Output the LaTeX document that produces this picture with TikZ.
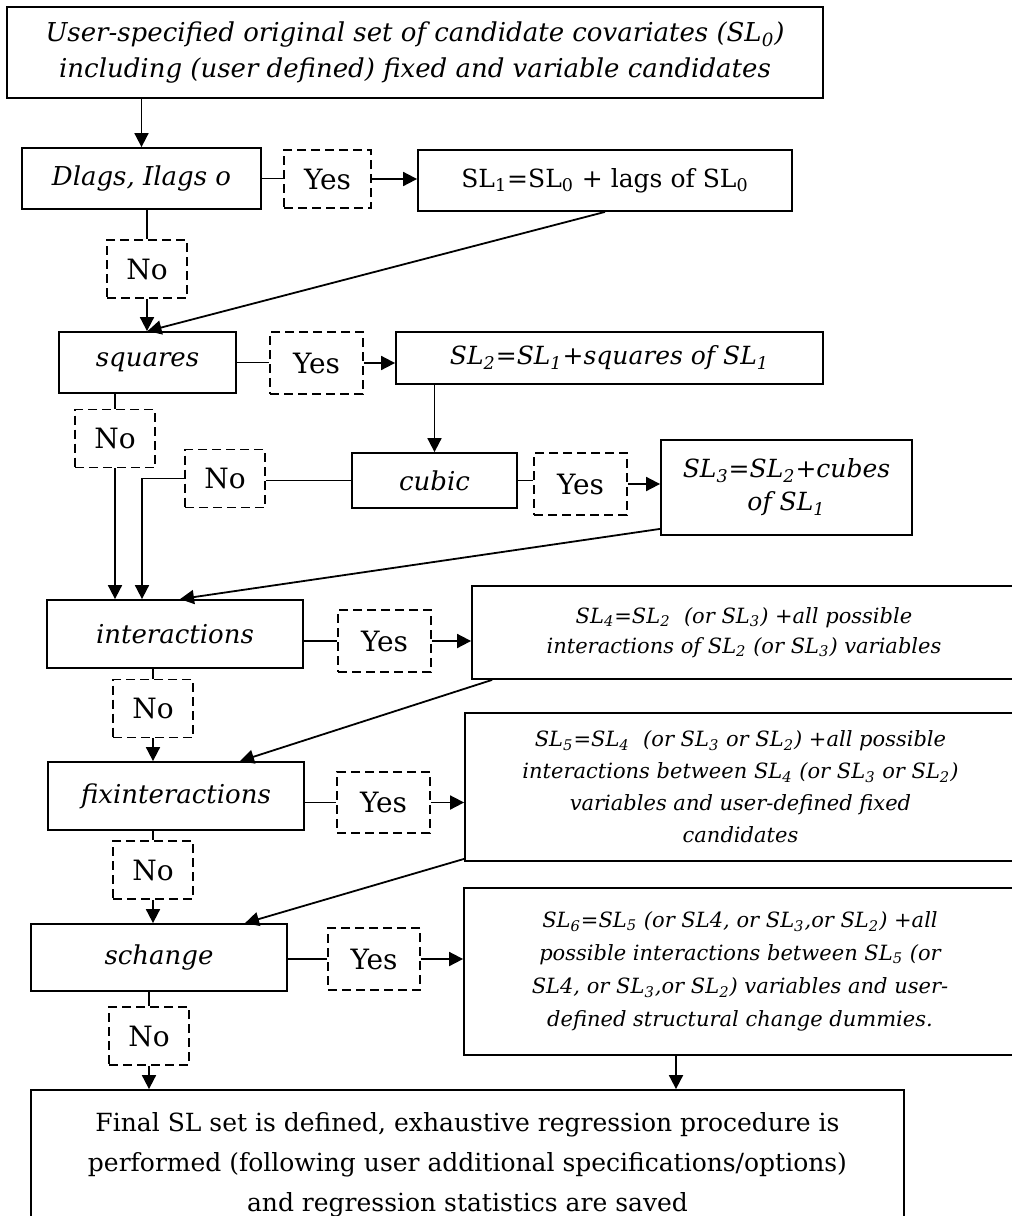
\documentclass[tikz,border=0pt]{standalone}
\usepackage{fontspec}
\setmainfont{DejaVu Serif}
\usepackage{tikz}
\usetikzlibrary{arrows.meta,positioning,calc}

\begin{document}
\begin{tikzpicture}[
  x=0.5pt, y=-0.5pt,
  box/.style={draw, line width=0.9pt, inner sep=0pt, align=center, font=\fontsize{13}{19}\selectfont},
  longbox/.style={box, font=\fontsize{10.5}{16}\selectfont},
  ans/.style={draw, dashed, dash pattern=on 4.5pt off 2.5pt, line width=0.75pt, inner sep=0pt, minimum width=40pt, minimum height=29pt, font=\fontsize{14}{16}\selectfont},
  arr/.style={-{Triangle[length=7pt,width=7pt]}, line width=0.9pt},
  link/.style={line width=0.9pt}
]
  \useasboundingbox (0,0) rectangle (1012,1216);

  \node[box, minimum width=408pt, minimum height=45.5pt, font=\fontsize{13}{18}\selectfont] (orig) at (415,52.5)
    {\itshape User-specified original set of candidate covariates (SL\textsubscript{0})\\
     \itshape including (user defined) fixed and variable candidates};

  \node[box, minimum width=119.5pt, minimum height=30.5pt] (dlags) at (141.5,178.5) {\itshape Dlags, Ilags o};
  \node[ans, minimum width=43.5pt] (yes1) at (327.5,179) {Yes};
  \node[box, minimum width=187pt, minimum height=30.5pt, font=\fontsize{12.5}{15}\selectfont] (sl1) at (605,180.5)
    {SL\textsubscript{1}=SL\textsubscript{0} + lags of SL\textsubscript{0}};
  \node[ans] (no1) at (147,269) {No};

  \node[box, minimum width=88.5pt, minimum height=30.5pt] (squares) at (147.5,362.5) {\itshape squares};
  \node[ans, minimum width=46.5pt, minimum height=31pt] (yes2) at (316.5,363) {Yes};
  \node[box, minimum width=213.5pt, minimum height=26pt, font=\fontsize{12.5}{15}\selectfont] (sl2) at (609.5,358)
    {\itshape SL\textsubscript{2}=SL\textsubscript{1}+squares of SL\textsubscript{1}};
  \node[ans] (no2) at (115,438.5) {No};

  \node[box, minimum width=82.5pt, minimum height=27.5pt] (cubic) at (434.5,480.5) {\itshape cubic};
  \node[ans] (no3) at (225,478.5) {No};
  \node[ans, minimum width=46.5pt, minimum height=31pt] (yes3) at (580.5,484) {Yes};
  \node[box, minimum width=125.5pt, minimum height=47.5pt, font=\fontsize{12.5}{16.5}\selectfont] (sl3) at (786.5,487.5)
    {\itshape SL\textsubscript{3}=SL\textsubscript{2}+cubes\\ \itshape of SL\textsubscript{1}};

  \node[box, minimum width=128pt, minimum height=34pt] (inter) at (175,634) {\itshape interactions};
  \node[ans, minimum width=46.5pt, minimum height=31pt] (yes4) at (384.5,641) {Yes};
  \node[longbox, minimum width=272pt, minimum height=46.5pt, font=\fontsize{10.5}{15}\selectfont] (sl4) at (744,632.5)
    {\itshape SL\textsubscript{4}=SL\textsubscript{2}\ \ (or SL\textsubscript{3}) +all possible\\
     \itshape interactions of SL\textsubscript{2} (or SL\textsubscript{3}) variables};
  \node[ans] (no4) at (153,708.5) {No};

  \node[box, minimum width=128pt, minimum height=34pt] (fixint) at (176,796) {\itshape fixinteractions};
  \node[ans, minimum width=46.5pt, minimum height=30.5pt] (yes5) at (383.5,802.5) {Yes};
  \node[longbox, minimum width=275.5pt, minimum height=74pt] (sl5) at (740.5,787)
    {\itshape SL\textsubscript{5}=SL\textsubscript{4}\ \ (or SL\textsubscript{3} or SL\textsubscript{2}) +all possible\\
     \itshape interactions between SL\textsubscript{4} (or SL\textsubscript{3} or SL\textsubscript{2})\\
     \itshape variables and user-defined fixed\\
     \itshape candidates};
  \node[ans] (no5) at (153,870) {No};

  \node[box, minimum width=128pt, minimum height=33.5pt] (schange) at (159,957.5) {\itshape schange};
  \node[ans, minimum width=46pt, minimum height=31pt] (yes6) at (374,959) {Yes};
  \node[longbox, minimum width=276pt, minimum height=83.5pt, font=\fontsize{10.5}{16.5}\selectfont] (sl6) at (740,971.5)
    {\itshape SL\textsubscript{6}=SL\textsubscript{5} (or SL4, or SL\textsubscript{3},or SL\textsubscript{2}) +all\\
     \itshape possible interactions between SL\textsubscript{5} (or\\
     \itshape SL4, or SL\textsubscript{3},or SL\textsubscript{2}) variables and user-\\
     \itshape defined structural change dummies.};
  \node[ans] (no6) at (149,1036) {No};

  \node[box, minimum width=436.5pt, minimum height=75pt, font=\fontsize{12.5}{20}\selectfont] (final) at (467.5,1165)
    {Final SL set is defined, exhaustive regression procedure is\\
     performed (following user additional specifications/options)\\
     and regression statistics are saved};

  \draw[arr] (orig.south -| dlags.north) -- (dlags.north);
  \draw[link] (dlags.east) -- (dlags.east -| yes1.west);
  \draw[arr] (yes1.east) -- (yes1.east -| sl1.west);
  \draw[link] (dlags.south -| no1.north) -- (no1.north);
  \draw[arr] (no1.south) -- (no1.south |- squares.north);
  \draw[arr] (sl1.south) -- (squares.north);

  \draw[link] (squares.east) -- (squares.east -| yes2.west);
  \draw[arr] (yes2.east) -- (yes2.east -| sl2.west);
  \draw[arr] (sl2.south -| cubic.north) -- (cubic.north);
  \draw[link] (squares.south -| no2.north) -- (no2.north);
  \draw[arr] (no2.south) -- (no2.south |- inter.north);

  \draw[link] (cubic.west) -- (cubic.west -| no3.east);
  \draw[arr] (no3.west) -| ([xshift=-16.5pt]inter.north);
  \draw[link] (cubic.east) -- (cubic.east -| yes3.west);
  \draw[arr] (yes3.east) -- (yes3.east -| sl3.west);
  \draw[arr] ([yshift=3.5pt]sl3.south west) -- ([xshift=2.5pt]inter.north);

  \draw[link] (inter.east |- yes4.west) -- (yes4.west);
  \draw[arr] (yes4.east) -- (yes4.east -| sl4.west);
  \draw[link] (inter.south -| no4.north) -- (no4.north);
  \draw[arr] (no4.south) -- (no4.south |- fixint.north);
  \draw[arr] ([xshift=10.5pt]sl4.south west) -- ([xshift=32pt]fixint.north);

  \draw[link] (fixint.east |- yes5.west) -- (yes5.west);
  \draw[arr] (yes5.east) -- (yes5.east -| sl5.west);
  \draw[link] (fixint.south -| no5.north) -- (no5.north);
  \draw[arr] (no5.south) -- (no5.south |- schange.north);
  \draw[arr] ([yshift=1.5pt]sl5.south west) -- ([xshift=43pt]schange.north);

  \draw[link] (schange.east |- yes6.west) -- (yes6.west);
  \draw[arr] (yes6.east) -- (yes6.east -| sl6.west);
  \draw[link] (schange.south -| no6.north) -- (no6.north);
  \draw[arr] (no6.south) -- (no6.south |- final.north);
  \draw[arr] ([xshift=-32pt]sl6.south) -- ([xshift=-32pt]sl6.south |- final.north);
\end{tikzpicture}
\end{document}
